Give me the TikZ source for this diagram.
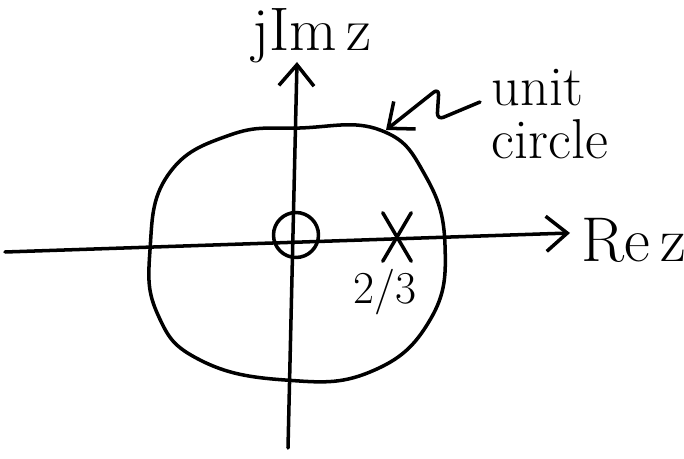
\documentclass[tikz,border=0pt]{standalone}
\usepackage{fontspec}
\usetikzlibrary{arrows.meta,shapes.misc}

\begin{document}
\begin{tikzpicture}[x=0.02cm, y=-0.02cm, line width=2pt, line cap=round, line join=round,
    hand/.style={font=\fontsize{32}{30}\selectfont},
    barb/.style={-{Straight Barb[length=12pt,width=20pt]}}]

        \useasboundingbox (0, 0) rectangle (684, 459);

        % axes
        \coordinate (west) at (5, 252);
        \coordinate (east) at (570, 233);
        \coordinate (south) at (288, 448);
        \coordinate (north) at (297, 62);
        \draw[barb] (west) -- (east);
        \draw[barb] (south) -- (north);

        \node[hand, font=\fontsize{35}{35}\selectfont, inner sep=0pt] (imlab) at (312, 36) {jIm\,z};
        \node[hand, font=\fontsize{36}{36}\selectfont, anchor=west] (relab) at (574, 240) {Re\,z};

        % unit circle
        \draw plot[smooth cycle, tension=0.75] coordinates {
            (150, 250) (168, 175) (230, 135) (300, 128) (380, 130)
            (425, 175) (445, 245) (430, 320) (370, 372) (285, 380)
            (200, 360) (158, 315)};

        % zero and pole
        \node[circle, draw, minimum size=0.9cm, inner sep=0pt] (zero) at (296, 235) {};
        \node[cross out, draw, minimum width=0.5cm, minimum height=0.9cm, inner sep=0pt] (pole) at (397, 237) {};
        \node[hand, font=\fontsize{26}{26}\selectfont] (twothirds) at (385, 292) {2/3};

        % label for the circle
        \node[hand, anchor=west, align=left, inner sep=0pt] (ucl) at (490, 114) {unit\\circle};
        \coordinate (squig) at (480, 102);
        \draw[barb, rounded corners=4pt] (squig) -- (437, 120) -- (439, 88) -- (386, 130);
    \end{tikzpicture}
\end{document}
